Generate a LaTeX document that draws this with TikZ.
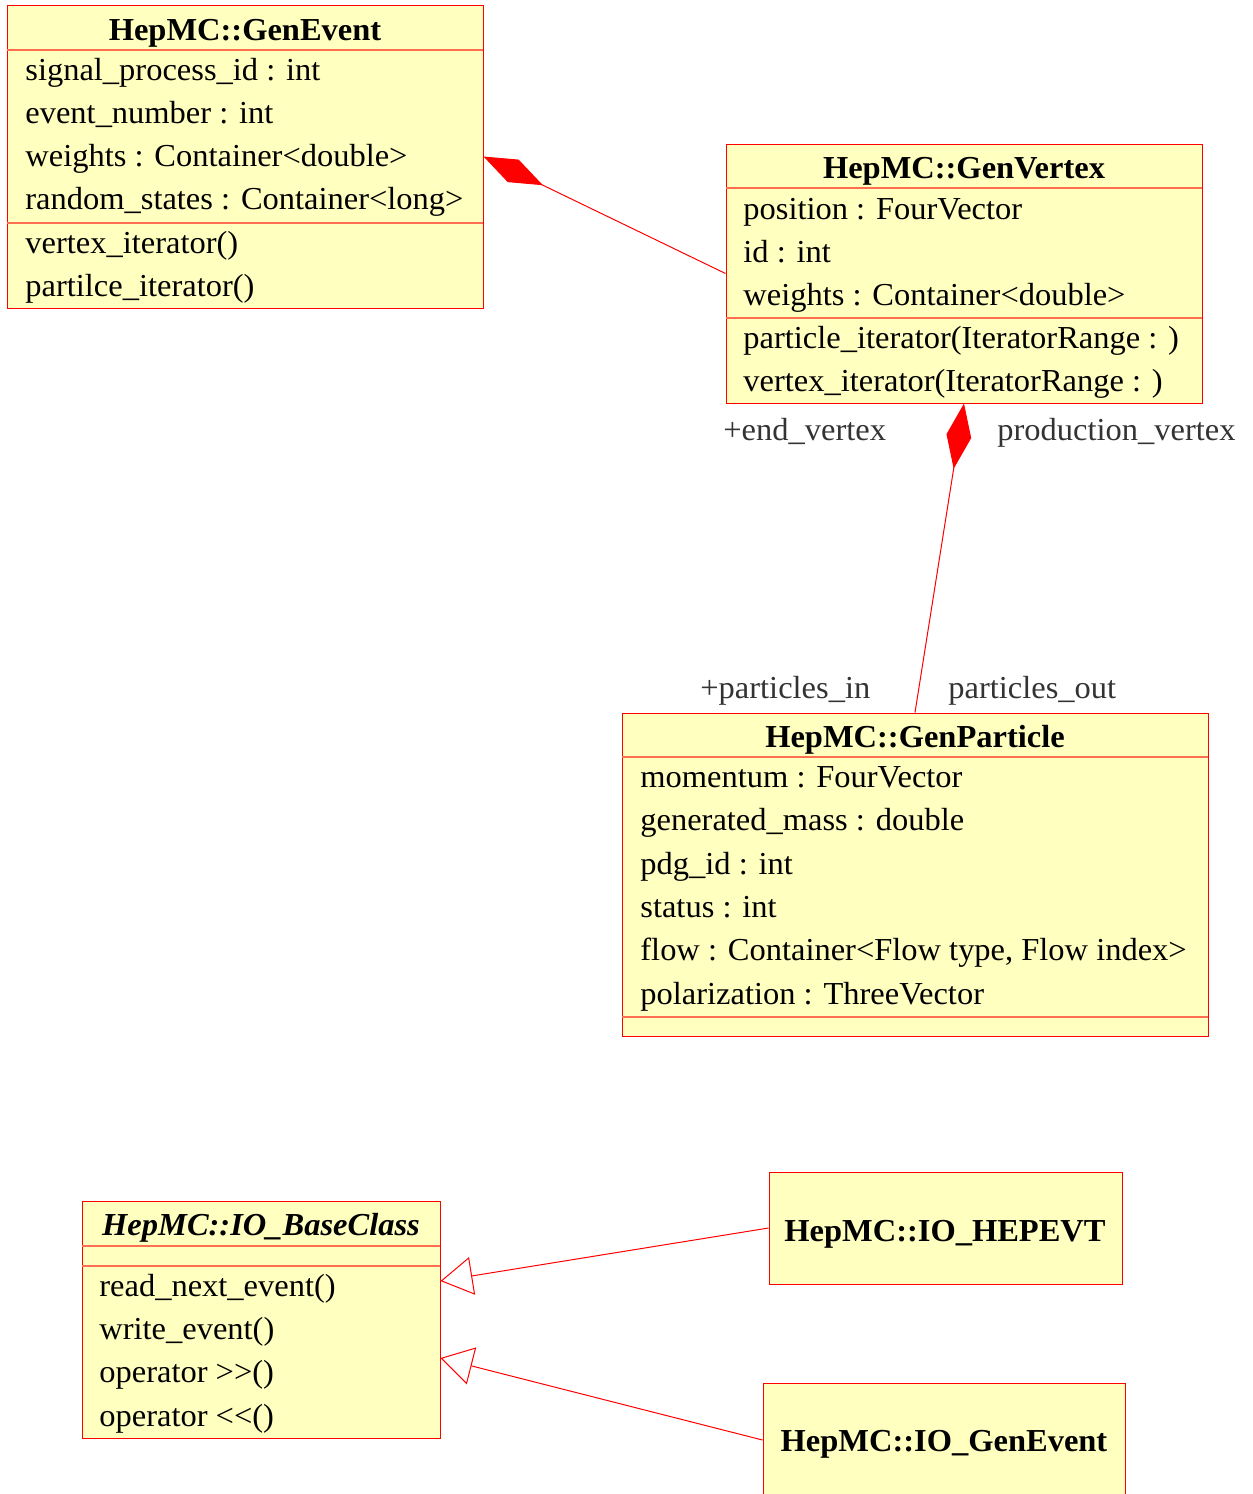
\documentclass[tikz,border=0pt]{standalone}
\usepackage{fontspec}
\setmainfont{Liberation Serif}[FakeStretch=1.015]
\usetikzlibrary{arrows.meta,fit,calc}
\definecolor{umlfill}{RGB}{255,255,192}
\definecolor{umlline}{RGB}{255,0,0}
\definecolor{umlsep}{RGB}{255,110,80}
\definecolor{labelgray}{RGB}{51,51,51}
\begin{document}
\begin{tikzpicture}[x=0.5pt,y=-0.5pt,
  box/.style={draw=umlline, fill=umlfill, line width=0.5pt, inner sep=0pt},
  sep/.style={draw=umlsep, line width=0.6pt},
  ctitle/.style={font=\fontsize{16}{19}\selectfont\bfseries, inner sep=0pt, anchor=base},
  row/.style={font=\fontsize{16}{19}\selectfont, anchor=base west, inner sep=0pt},
  lbl/.style={font=\fontsize{16}{19}\selectfont, text=labelgray, anchor=base west, inner sep=0pt},
  conn/.style={draw=umlline, line width=0.5pt},
  comp/.style={conn, {Diamond[length=33pt,width=12.5pt,fill=umlline]}-},
  gen/.style={conn, {Triangle[length=16pt,width=19pt,fill=white]}-},
]
\useasboundingbox (0,0) rectangle (1253,1494);

% GenEvent
\node[box, fit={(7,5) (483,308)}] (ge) {};
\draw[sep] (7,50) -- (483,50);
\draw[sep] (7,223) -- (483,223);
\node[ctitle] (geT) at (245,40) {HepMC::GenEvent};
\node[row] (ge1) at (25,80) {signal\_process\_id : int};
\node[row] (ge2) at (25,123) {event\_number : int};
\node[row] (ge3) at (25,166) {weights : Container<double>};
\node[row] (ge4) at (25,209) {random\_states : Container<long>};
\node[row] (ge5) at (25,253) {vertex\_iterator()};
\node[row] (ge6) at (25,296) {partilce\_iterator()};

% GenVertex
\node[box, fit={(726,144) (1202,403)}] (gv) {};
\draw[sep] (726,188) -- (1202,188);
\draw[sep] (726,318) -- (1202,318);
\node[ctitle] (gvT) at (964,178) {HepMC::GenVertex};
\node[row] (gv1) at (743,219) {position : FourVector};
\node[row] (gv2) at (743,262) {id : int};
\node[row] (gv3) at (743,305) {weights : Container<double>};
\node[row] (gv4) at (743,348) {particle\_iterator(IteratorRange : )};
\node[row] (gv5) at (743,391) {vertex\_iterator(IteratorRange : )};

% GenParticle
\node[box, fit={(622,713) (1208,1036)}] (gp) {};
\draw[sep] (622,757) -- (1208,757);
\draw[sep] (622,1017) -- (1208,1017);
\node[ctitle] (gpT) at (915,747) {HepMC::GenParticle};
\node[row] (gp1) at (640,787) {momentum : FourVector};
\node[row] (gp2) at (640,830) {generated\_mass : double};
\node[row] (gp3) at (640,874) {pdg\_id : int};
\node[row] (gp4) at (640,917) {status : int};
\node[row] (gp5) at (640,960) {flow : Container<Flow type, Flow index>};
\node[row] (gp6) at (640,1004) {polarization : ThreeVector};

% IO_BaseClass
\node[box, fit={(82,1201) (440,1438)}] (bc) {};
\draw[sep] (82,1246) -- (440,1246);
\draw[sep] (82,1266) -- (440,1266);
\node[ctitle, font=\fontsize{16}{19}\selectfont\bfseries\itshape] (bcT) at (261,1235) {HepMC::IO\_BaseClass};
\node[row] (bc1) at (99,1296) {read\_next\_event()};
\node[row] (bc2) at (99,1339) {write\_event()};
\node[row] (bc3) at (99,1382) {operator >{}>()};
\node[row] (bc4) at (99,1426) {operator <{}<()};

% IO_HEPEVT
\node[box, fit={(769,1172) (1122,1284)}] (he) {};
\node[ctitle] (heT) at (945,1241) {HepMC::IO\_HEPEVT};

% IO_GenEvent
\node[box, fit={(763,1383) (1125,1497)}] (ie) {};
\node[ctitle] (ieT) at (944,1451) {HepMC::IO\_GenEvent};

% connectors
\draw[comp] (ge.east) -- (gv.west);
\draw[comp] (gv.south) -- (gp.north);
\coordinate (b1) at ($(bc.east)+(0,-38.5)$);
\coordinate (b2) at ($(bc.east)+(0,38.5)$);
\draw[gen] (b1) -- (he.west);
\draw[gen] (b2) -- (ie.west);

% role labels
\node[lbl] (l1) at (723,440) {+end\_vertex};
\node[lbl] (l2) at (997,440) {production\_vertex};
\node[lbl] (l3) at (700,698) {+particles\_in};
\node[lbl] (l4) at (948,698) {particles\_out};
\end{tikzpicture}
\end{document}
